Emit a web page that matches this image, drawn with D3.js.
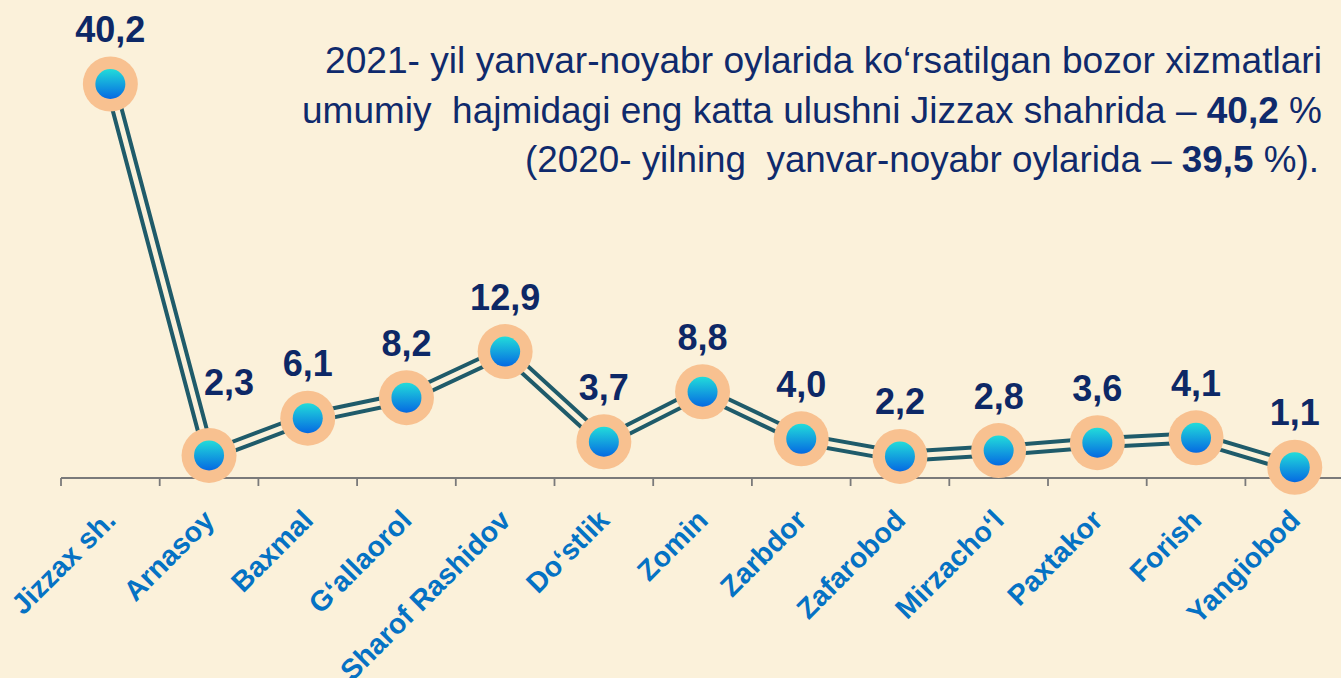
<!DOCTYPE html>
<html lang="uz">
<head>
    <meta charset="UTF-8">
    <title>Bozor xizmatlari ulushi</title>
    <script src="https://d3js.org/d3.v7.min.js"></script>
    <style>
        * { margin: 0; padding: 0; box-sizing: border-box; }
        body { background: #fbf1da; font-family: "Liberation Sans", Arial, sans-serif; overflow: hidden; }
    </style>
</head>
<body>
    <div id="chart"></div>
    <script>
        // tumanlar va ulush (%)
        const districts = ["Jizzax sh.", "Arnasoy", "Baxmal", "G‘allaorol", "Sharof Rashidov", "Do‘stlik",
                           "Zomin", "Zarbdor", "Zafarobod", "Mirzacho‘l", "Paxtakor", "Forish", "Yangiobod"];
        const shares = [40.2, 2.3, 6.1, 8.2, 12.9, 3.7, 8.8, 4.0, 2.2, 2.8, 3.6, 4.1, 1.1];
        const noteLines = [
            [{ t: "2021- yil yanvar-noyabr oylarida ko‘rsatilgan bozor xizmatlari" }],
            [{ t: "umumiy  hajmidagi eng katta ulushni Jizzax shahrida – " }, { t: "40,2", b: true }, { t: " %" }],
            [{ t: "(2020- yilning  yanvar-noyabr oylarida – " }, { t: "39,5", b: true }, { t: " %)." }]
        ];

        const W = 1341, H = 678;
        const svg = d3.select("#chart").append("svg")
            .attr("width", W).attr("height", H);

        svg.append("rect").attr("width", W).attr("height", H).attr("fill", "#fbf1da");

        const defs = svg.append("defs");
        const grad = defs.append("linearGradient").attr("id", "dot")
            .attr("x1", 0).attr("y1", 0).attr("x2", 0).attr("y2", 1);
        grad.append("stop").attr("offset", "0%").attr("stop-color", "#22dcda");
        grad.append("stop").attr("offset", "100%").attr("stop-color", "#0569e2");

        const x = d3.scaleBand().domain(districts).range([61, 61 + 13 * 98.7]);
        const y = d3.scaleLinear().domain([0, 40.2]).range([478, 84]);
        const cx = d => x(d) + x.bandwidth() / 2;

        // o'q
        svg.append("line")
            .attr("x1", 61).attr("x2", W)
            .attr("y1", y(0)).attr("y2", y(0))
            .attr("stroke", "#7a7a7a").attr("stroke-width", 1.8);
        svg.selectAll(".tick")
            .data(districts)
            .join("line")
            .attr("x1", d => x(d)).attr("x2", d => x(d))
            .attr("y1", y(0)).attr("y2", y(0) + 8)
            .attr("stroke", "#7a7a7a").attr("stroke-width", 1.8);

        svg.selectAll(".cat")
            .data(districts)
            .join("text")
            .attr("transform", d => `translate(${cx(d) + 7},${522}) rotate(-45)`)
            .attr("text-anchor", "end")
            .attr("fill", "#0572c4")
            .style("font-size", "28.5px")
            .style("font-weight", "bold")
            .text(d => d);

        // chiziq (ikki qatorli)
        const pts = districts.map((d, i) => [cx(d), y(shares[i])]);
        const line = d3.line();
        svg.append("path").attr("d", line(pts))
            .attr("fill", "none").attr("stroke", "#1f5b6a")
            .attr("stroke-width", 13).attr("stroke-linejoin", "round");
        svg.append("path").attr("d", line(pts))
            .attr("fill", "none").attr("stroke", "#fbf1da")
            .attr("stroke-width", 5).attr("stroke-linejoin", "round");

        const g = svg.selectAll(".pt")
            .data(districts)
            .join("g")
            .attr("transform", (d, i) => `translate(${cx(d)},${y(shares[i])})`);
        g.append("circle").attr("r", 27.5).attr("fill", "#f8c190");
        g.append("circle").attr("r", 15).attr("fill", "url(#dot)");

        svg.selectAll(".val")
            .data(shares)
            .join("text")
            .attr("x", (v, i) => cx(districts[i]) + (i > 0 && shares[i - 1] - v > 10 ? 20 : 0))
            .attr("y", (v, i) => y(v) - 42 - (i > 0 && shares[i - 1] - v > 10 ? 18 : 0))
            .attr("text-anchor", "middle")
            .attr("fill", "#0d2866")
            .style("font-size", "36px")
            .style("font-weight", "bold")
            .text(v => d3.format(".1f")(v).replace(".", ","));

        // izoh
        const starts = [325, 302, 525], ends = [1322, 1322, 1319], bases = [73, 123, 172];
        noteLines.forEach((parts, i) => {
            const t = svg.append("text")
                .attr("x", starts[i]).attr("y", bases[i])
                .attr("textLength", ends[i] - starts[i])
                .attr("lengthAdjust", "spacingAndGlyphs")
                .attr("fill", "#0f2a6c")
                .style("font-size", "36px")
                .style("white-space", "pre");
            parts.forEach(p => t.append("tspan")
                .style("font-weight", p.b ? "bold" : "normal")
                .text(p.t));
        });
    </script>
</body>
</html>
